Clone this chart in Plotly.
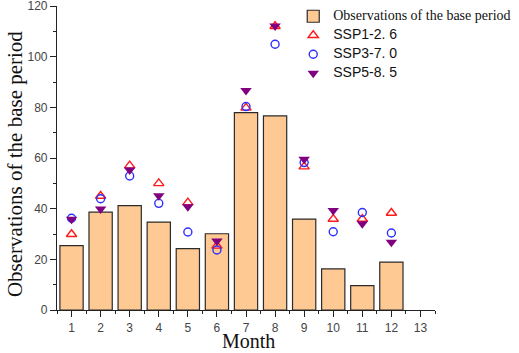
import plotly.graph_objects as go

months = list(range(1, 13))
base_obs = [25.4, 38.6, 41.2, 34.7, 24.2, 30.1, 77.9, 76.6, 35.9, 16.2, 9.6, 18.9]
ssp126 = [29.9, 45.0, 57.0, 50.0, 42.4, 25.3, 79.8, 112.0, 56.6, 35.9, 35.9, 38.3]
ssp370 = [36.2, 43.9, 52.9, 42.1, 30.8, 23.7, 80.3, 104.9, 58.2, 30.9, 38.5, 30.4]
ssp585 = [35.8, 39.9, 55.3, 45.1, 40.8, 27.2, 86.6, 112.1, 59.5, 39.3, 34.0, 26.7]
x_ticks = list(range(1, 14))
y_ticks = [0, 20, 40, 60, 80, 100, 120]

serif = "Liberation Serif, Times New Roman, serif"
sans = "Liberation Sans, Arial, sans-serif"


def leg(text, family):
    return f'<span style="font-family:{family};font-size:14px">{text}</span>'


fig = go.Figure()
fig.add_trace(go.Bar(
    x=months, y=base_obs, width=0.8,
    name=leg("Observations of the base period", "Liberation Serif"),
    marker=dict(color="#FFC993", line=dict(color="#2b2b2b", width=1.2)),
))
fig.add_trace(go.Scatter(
    x=months, y=ssp126, mode="markers", name=leg("SSP1-2. 6", "Liberation Sans"),
    marker=dict(symbol="triangle-up-open", size=9, color="#FF1A1A", line=dict(width=1.4)),
))
fig.add_trace(go.Scatter(
    x=months, y=ssp370, mode="markers", name=leg("SSP3-7. 0", "Liberation Sans"),
    marker=dict(symbol="circle-open", size=8, color="#2E2EFF", line=dict(width=1.4)),
))
fig.add_trace(go.Scatter(
    x=months, y=ssp585, mode="markers", name=leg("SSP5-8. 5", "Liberation Sans"),
    marker=dict(symbol="triangle-down", size=10, color="#800080"),
))

fig.update_layout(
    width=519, height=353,
    margin=dict(l=57, r=84, t=6, b=43, autoexpand=False),
    paper_bgcolor="white", plot_bgcolor="white",
    font=dict(family=sans, size=12, color="#222"),
    showlegend=True,
    legend=dict(xref="container", yref="container", x=0.565, y=0.995,
                xanchor="left", yanchor="top",
                font=dict(family=sans, size=10, color="#111"),
                bgcolor="rgba(0,0,0,0)", tracegroupgap=0, itemwidth=30),
    bargap=0.2,
    annotations=[
        dict(text="Month", xref="paper", yref="paper", x=0.5, y=0,
             xanchor="center", yanchor="bottom", yshift=-43, xshift=2, showarrow=False,
             borderpad=0, font=dict(family=serif, size=20, color="#111")),
        dict(text="Observations of the base period", xref="paper", yref="paper",
             x=0, y=0.48, xanchor="center", yanchor="middle", xshift=-42,
             textangle=-90, showarrow=False,
             font=dict(family=serif, size=21, color="#111")),
    ],
)
fig.update_xaxes(
    range=[0.5, 13.5], tickvals=x_ticks, ticktext=[str(t) for t in x_ticks],
    showline=True, linecolor="#222", linewidth=1.2, showgrid=False, zeroline=False,
    ticks="outside", ticklen=6, tickcolor="#222", automargin=False,
    ticklabeloverflow="allow",
    minor=dict(dtick=1, tick0=0.5, ticks="outside", ticklen=3, tickcolor="#222"),
    tickfont=dict(family=sans, size=12, color="#444"),
)
fig.update_yaxes(
    range=[0, 120], tickvals=y_ticks,
    showline=True, linecolor="#222", linewidth=1.2, showgrid=False, zeroline=False,
    ticks="outside", ticklen=6, tickcolor="#222", automargin=False,
    ticklabeloverflow="allow",
    minor=dict(dtick=10, ticks="outside", ticklen=3, tickcolor="#222"),
    tickfont=dict(family=sans, size=12, color="#444"),
)

fig.write_html("out.html", config={"displayModeBar": False},
               post_script="document.body.style.margin='0';")
